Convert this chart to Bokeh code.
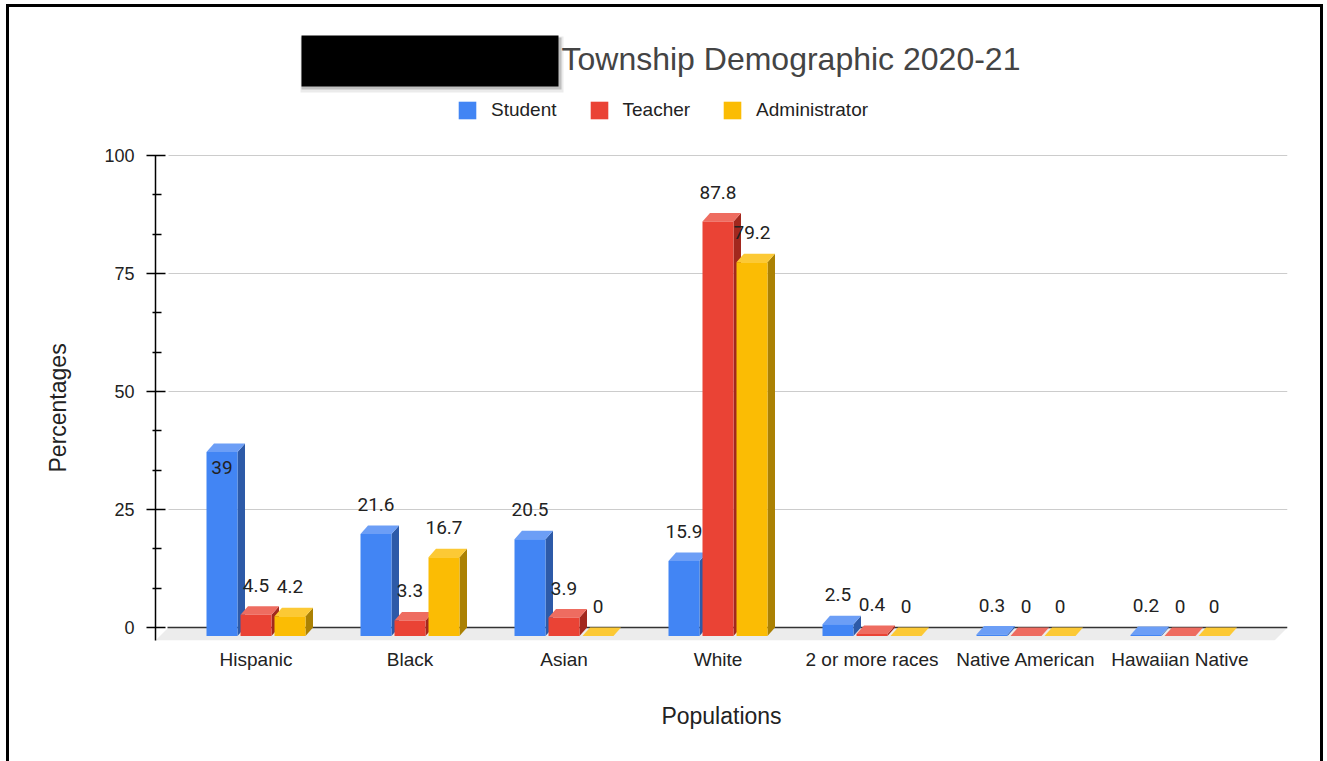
from bokeh.plotting import figure
from bokeh.models import (Range1d, FixedTicker, Label, BoxAnnotation, Legend,
                          LegendItem, ColumnDataSource, Title, InlineStyleSheet)
from bokeh.core.properties import value
from bokeh.embed import file_html
from bokeh.resources import INLINE

# ---------------- data ----------------
categories = ["Hispanic", "Black", "Asian", "White", "2 or more races",
              "Native American", "Hawaiian Native"]
series_names = ["Student", "Teacher", "Administrator"]
student = [39, 21.6, 20.5, 15.9, 2.5, 0.3, 0.2]
teacher = [4.5, 3.3, 3.9, 87.8, 0.4, 0, 0]
administrator = [4.2, 16.7, 0, 79.2, 0, 0, 0]
y_ticks = [0, 25, 50, 75, 100]
title_text = "Township Demographic 2020-21"
x_title = "Populations"
y_title = "Percentages"

series_values = [student, teacher, administrator]

# ---------------- layout helpers (page pixels -> data units) ----------------
W, H = 1325, 761
FRAME_L, FRAME_R, FRAME_T, FRAME_B = 155, 1287, 20, 640
PX_PER_CAT = 154.0
PX_PER_UNIT = 4.72
ORIGIN_X = 255.5
ORIGIN_Y = 627.0


def X(px):
    return (px - ORIGIN_X) / PX_PER_CAT


def Y(py):
    return (ORIGIN_Y - py) / PX_PER_UNIT


BAR_W = 31 / PX_PER_CAT
BAR_STEP = 34 / PX_PER_CAT
DX = 7.5 / PX_PER_CAT
DY = 8.5 / PX_PER_UNIT
LABEL_UP = 21 / PX_PER_UNIT
LABEL_IN = 24 / PX_PER_UNIT
inside_labels = {("Hispanic", "Student")}

front_colors = ["#4285F4", "#EA4335", "#FBBC04"]
side_colors = ["#2d5aa8", "#a2281e", "#ab8103"]
top_colors = ["#6c9ef6", "#ee6c60", "#fcc935"]

AX_FONT = "Liberation Sans"

border_css = InlineStyleSheet(css=(
    ":host { box-shadow: inset 6px 4px 0 0 #fff, inset -2px 0 0 0 #fff, "
    "inset 9px 7px 0 0 #000, inset -5px 0 0 0 #000; background: #fff; }"))

p = figure(width=W, height=H,
           x_range=Range1d(X(FRAME_L), X(FRAME_R)),
           y_range=Range1d(Y(FRAME_B), Y(FRAME_T)),
           output_backend="svg", toolbar_location=None,
           min_border_left=FRAME_L, min_border_right=W - FRAME_R,
           min_border_top=FRAME_T, min_border_bottom=H - FRAME_B,
           stylesheets=[border_css])
p.outline_line_color = None
p.xgrid.visible = False
p.ygrid.visible = False
p.background_fill_color = "white"
p.border_fill_color = None

# floor
p.patch([X(155), X(168), X(1287), X(1274)], [Y(640), 0, 0, Y(640)],
        color="#ececec", line_color=None)

# gridlines (back plane)
grid_vals = [t for t in y_ticks if t != 0]
p.segment(x0=[X(168)] * len(grid_vals), y0=grid_vals,
          x1=[X(1287)] * len(grid_vals), y1=grid_vals,
          line_color="#cccccc", line_width=1)
p.segment(x0=[X(167)], y0=[0], x1=[X(1287)], y1=[0],
          line_color="#333333", line_width=1.5)

# bars
front_renderers = []
lab_x, lab_y, lab_t = [], [], []
for s, (name, vals) in enumerate(zip(series_names, series_values)):
    lefts, rights, bottoms, tops = [], [], [], []
    side_xs, side_ys, top_xs, top_ys = [], [], [], []
    for i, (cat, v) in enumerate(zip(categories, vals)):
        c = i + (s - 1) * BAR_STEP
        l = c - BAR_W / 2
        r = c + BAR_W / 2
        lefts.append(l)
        rights.append(r)
        bottoms.append(-DY)
        tops.append(v - DY)
        side_xs.append([r, r + DX, r + DX, r])
        side_ys.append([-DY, 0, v, v - DY])
        top_xs.append([l, r, r + DX, l + DX])
        top_ys.append([v - DY, v - DY, v, v])
        lab_x.append(c)
        if (cat, name) in inside_labels:
            lab_y.append(v - LABEL_IN)
        else:
            lab_y.append(v + LABEL_UP)
        lab_t.append(f"{v:g}")
    p.patches(side_xs, side_ys, fill_color=side_colors[s], line_color=None)
    p.patches(top_xs, top_ys, fill_color=top_colors[s], line_color=None)
    fr = p.quad(left=lefts, right=rights, bottom=bottoms, top=tops,
                fill_color=front_colors[s], line_color=None)
    front_renderers.append(fr)

lab_src = ColumnDataSource(dict(x=lab_x, y=lab_y, text=lab_t))
p.text(x="x", y="y", text="text", source=lab_src,
       text_align="center", text_baseline="middle",
       text_font=value("Roboto"), text_font_size="19px",
       text_color="#222222")

# axes
minor = []
for a, b in zip(y_ticks[:-1], y_ticks[1:]):
    minor += [a + (b - a) / 3, a + 2 * (b - a) / 3]
yax = p.yaxis[0]
yax.ticker = FixedTicker(ticks=y_ticks, minor_ticks=minor)
yax.bounds = (Y(FRAME_B), 100)
yax.axis_line_color = "black"
yax.axis_line_width = 1.5
yax.major_tick_line_color = "black"
yax.major_tick_line_width = 1.5
yax.minor_tick_line_color = "black"
yax.minor_tick_line_width = 1.5
yax.major_tick_in = 10
yax.major_tick_out = 9
yax.minor_tick_in = 6
yax.minor_tick_out = 3
yax.major_label_standoff = 12
yax.major_label_text_font = AX_FONT
yax.major_label_text_font_size = "18px"
yax.major_label_text_color = "#222222"

# y-axis title placed along the axis (centered on the plotted 0-100 span)
p.add_layout(Title(text=y_title, align="left", offset=FRAME_B - 472,
                   standoff=62, text_font=AX_FONT, text_font_size="23px",
                   text_font_style="normal", text_color="#222222"), "left")

xax = p.xaxis[0]
xax.ticker = FixedTicker(ticks=list(range(len(categories))))
xax.major_label_overrides = {i: c for i, c in enumerate(categories)}
xax.axis_line_color = None
xax.major_tick_line_color = None
xax.minor_tick_line_color = None
xax.major_tick_out = 0
xax.major_label_standoff = 8
xax.major_label_text_font = AX_FONT
xax.major_label_text_font_size = "19px"
xax.major_label_text_color = "#222222"
xax.axis_label = x_title
xax.axis_label_text_font = AX_FONT
xax.axis_label_text_font_size = "23px"
xax.axis_label_text_font_style = "normal"
xax.axis_label_text_color = "#222222"
xax.axis_label_standoff = 30

# legend
legend = Legend(items=[LegendItem(label=n, renderers=[r])
                       for n, r in zip(series_names, front_renderers)],
                orientation="horizontal", location=(456 - FRAME_L, FRAME_B - 121),
                glyph_width=22, glyph_height=22, label_standoff=13,
                spacing=31, padding=0, margin=0,
                border_line_color=None, background_fill_alpha=0,
                label_text_font=AX_FONT, label_text_font_size="19px",
                label_text_color="#222222")
p.add_layout(legend)

# redaction box with shadow
p.add_layout(BoxAnnotation(left=X(300), right=X(563), top=Y(36), bottom=Y(92),
                           fill_color="black", fill_alpha=0.08, line_color=None))
p.add_layout(BoxAnnotation(left=X(301), right=X(561), top=Y(37), bottom=Y(89),
                           fill_color="black", fill_alpha=0.18, line_color=None))
p.add_layout(BoxAnnotation(left=X(301), right=X(558), top=Y(35), bottom=Y(86),
                           fill_color="black", fill_alpha=1, line_color=None))

# title
p.add_layout(Label(x=X(561), y=Y(58), text=title_text,
                   text_align="left", text_baseline="middle",
                   text_font=AX_FONT, text_font_size="32px",
                   text_color="#444444"))

open("out.html", "w").write(file_html(p, INLINE))
